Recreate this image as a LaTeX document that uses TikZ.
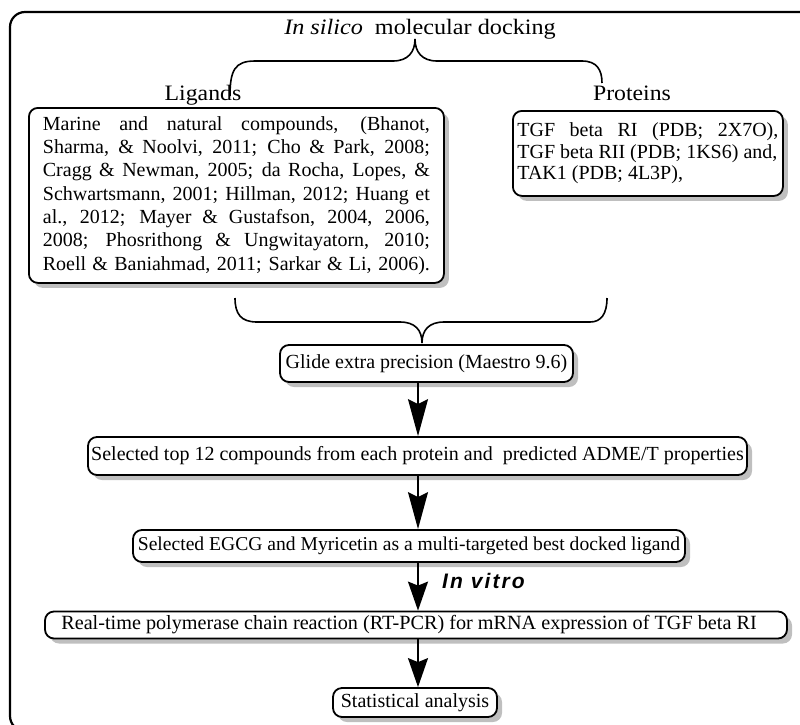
\documentclass[tikz,border=0pt]{standalone}
\usepackage{fontspec}
\setmainfont{Liberation Serif}
\setsansfont{Liberation Sans}
\newfontfamily\vitrofont[LetterSpace=10]{Liberation Sans}
\usetikzlibrary{arrows.meta,shadows}
\newcommand{\jl}[1]{\hbox to 387pt{#1}}
\newcommand{\jp}[1]{\hbox to 261pt{#1}}
\begin{document}
\begin{tikzpicture}[x=1pt,y=-1pt,
  box/.style={draw, line width=1.8pt, rounded corners=9pt, fill=white,
    drop shadow={shadow xshift=5pt, shadow yshift=-5pt, fill=black!25, opacity=1},
    font=\fontsize{20}{23.3}\selectfont, inner xsep=5pt, inner ysep=2pt},
  arr/.style={line width=1.8pt, -{Stealth[length=37pt,width=20pt,inset=5pt]}},
  arrs/.style={line width=1.8pt, -{Stealth[length=29pt,width=20pt,inset=4pt]}},
  brace/.style={line width=1.6pt},
  lbl/.style={font=\fontsize{22}{26}\selectfont, inner sep=0pt}
]
\useasboundingbox (0,0) rectangle (800,724);
\draw[line width=2.2pt, rounded corners=15pt] (10,12) rectangle (815,731);

\node[lbl, anchor=base] (title) at (420,34) {\scalebox{1.1}[1]{\textit{In silico}\ \ molecular docking}};
\node[lbl, anchor=base] (lig) at (203,100) {\scalebox{1.08}[1]{Ligands}};
\node[lbl, anchor=base] (prot) at (632,100) {\scalebox{1.08}[1]{Proteins}};

\coordinate (tl) at (230,96);
\coordinate (tt) at (415,39);
\coordinate (tr) at (602,83);
\draw[brace] (tl) .. controls (230,70) and (235,61) .. (255,61) -- (393,61)
  .. controls (408,61) and (415,52) .. (tt)
  .. controls (415,52) and (422,61) .. (437,61) -- (582,61)
  .. controls (597,61) and (602,70) .. (tr);

\node[box, anchor=north west, inner xsep=14pt, minimum height=175pt, align=left] (ligbox) at (28,107)
{\jl{Marine and natural compounds, (Bhanot,}\\
\jl{Sharma, \& Noolvi, 2011; Cho \& Park, 2008;}\\
\jl{Cragg \& Newman, 2005; da Rocha, Lopes, \&}\\
\jl{Schwartsmann, 2001; Hillman, 2012; Huang et}\\
\jl{al., 2012; Mayer \& Gustafson, 2004, 2006,}\\
\jl{2008; Phosrithong \& Ungwitayatorn, 2010;}\\
\jl{Roell \& Baniahmad, 2011; Sarkar \& Li, 2006).}};

\node[box, anchor=north west, inner xsep=4.5pt, minimum height=85pt, align=left,
  font=\fontsize{20}{21.7}\selectfont] (protbox) at (512,110)
{\jp{TGF beta RI (PDB; 2X7O),}\\
TGF beta RII (PDB; 1KS6) and,\\
TAK1 (PDB; 4L3P),};

\coordinate (bl) at (235,298);
\coordinate (bt) at (422,343);
\coordinate (br) at (607,298);
\draw[brace] (bl) .. controls (235,314) and (241,322) .. (257,322) -- (400,322)
  .. controls (415,322) and (422,330) .. (bt)
  .. controls (422,330) and (429,322) .. (444,322) -- (590,322)
  .. controls (601,322) and (607,314) .. (br);

\node[box, minimum width=293pt, minimum height=37pt, inner xsep=2pt] (glide) at (426.5,363.5)
{Glide extra precision (Maestro 9.6)};
\node[box, minimum width=659pt, minimum height=38pt, inner xsep=2pt] (sel) at (417.5,456)
{Selected top 12 compounds from each protein and\ \ predicted ADME/T properties};
\node[box, minimum width=552pt, minimum height=32pt, inner xsep=1pt,
  font=\fontsize{19.6}{23}\selectfont] (egcg) at (409,546)
{Selected EGCG and Myricetin as a multi-targeted best docked ligand};
\node[box, minimum width=742pt, minimum height=27pt, inner xsep=2pt,
  font=\fontsize{20.2}{23}\selectfont] (rt) at (416,625)
{\hspace*{-14pt}Real-time polymerase chain reaction (RT-PCR) for mRNA expression of TGF beta RI};
\node[box, minimum width=164pt, minimum height=29pt, inner xsep=2pt] (stat) at (415,702.5)
{Statistical analysis};

\node[font=\fontsize{21}{24}\vitrofont\bfseries\itshape, anchor=base west, inner sep=0pt] (vitro) at (442,588) {In vitro};

\coordinate (ax) at (418,0);
\draw[arr] (glide.south -| ax) -- (sel.north -| ax);
\draw[arr] (sel.south -| ax) -- (egcg.north -| ax);
\draw[arrs] (egcg.south -| ax) -- (rt.north -| ax);
\draw[arrs] (rt.south -| ax) -- (stat.north -| ax);
\end{tikzpicture}
\end{document}
